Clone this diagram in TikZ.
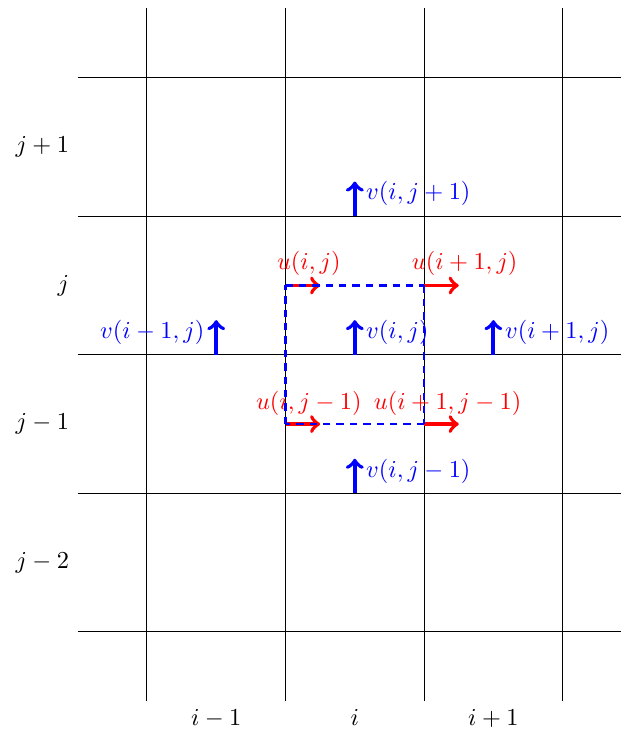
\documentclass[tikz,border=0pt]{standalone}
\begin{document}
\begin{tikzpicture}[x=2cm,y=2cm,
  gridline/.style={black, line width=0.4pt},
  uarr/.style={->, red, ultra thick},
  varr/.style={->, blue, ultra thick},
  ulab/.style={red, inner sep=0pt},
  vlab/.style={blue, inner sep=0pt},
  cellbox/.style={draw=blue, line width=1.1pt, dash pattern=on 3pt off 2.5pt}]
\useasboundingbox (-1.06,-0.70) rectangle (3.417,4.56);
% grid
\foreach \x in {0,...,3} \draw[gridline] (\x,-0.5) -- (\x,4.5);
\foreach \y in {0,...,4} \draw[gridline] (-0.5,\y) -- (3.5,\y);
% axis labels
\node[left] (ljp1) at (-0.5,3.5) {$j+1$};
\node[left] (lj)   at (-0.5,2.5) {$j$};
\node[left] (ljm1) at (-0.5,1.5) {$j-1$};
\node[left] (ljm2) at (-0.5,0.5) {$j-2$};
\node[below] (lim1) at (0.5,-0.5) {$i-1$};
\node[below] (li)   at (1.5,-0.5) {$i$};
\node[below] (lip1) at (2.5,-0.5) {$i+1$};
% u arrows
\coordinate (u1s) at (1,2.5); \coordinate (u1e) at (1.25,2.5);
\coordinate (u2s) at (2,2.5); \coordinate (u2e) at (2.25,2.5);
\coordinate (u3s) at (1,1.5); \coordinate (u3e) at (1.25,1.5);
\coordinate (u4s) at (2,1.5); \coordinate (u4e) at (2.25,1.5);
\draw[uarr] (u1s) -- (u1e);
\draw[uarr] (u2s) -- (u2e);
\draw[uarr] (u3s) -- (u3e);
\draw[uarr] (u4s) -- (u4e);
\node[ulab] (tu1) at (1.168,2.662) {$u(i,j)$};
\node[ulab] (tu2) at (2.293,2.662) {$u(i+1,j)$};
\node[ulab] (tu3) at (1.168,1.652) {$u(i,j-1)$};
\node[ulab] (tu4) at (2.170,1.652) {$u(i+1,j-1)$};
% v arrows
\coordinate (v1s) at (1.5,3); \coordinate (v1e) at (1.5,3.25);
\coordinate (v2s) at (1.5,2); \coordinate (v2e) at (1.5,2.25);
\coordinate (v3s) at (2.5,2); \coordinate (v3e) at (2.5,2.25);
\coordinate (v4s) at (0.5,2); \coordinate (v4e) at (0.5,2.25);
\coordinate (v5s) at (1.5,1); \coordinate (v5e) at (1.5,1.25);
\draw[varr] (v1s) -- (v1e);
\draw[varr] (v2s) -- (v2e);
\draw[varr] (v3s) -- (v3e);
\draw[varr] (v4s) -- (v4e);
\draw[varr] (v5s) -- (v5e);
\node[vlab, anchor=west] (tv1) at (1.579,3.167) {$v(i,j+1)$};
\node[vlab, anchor=west] (tv2) at (1.579,2.160) {$v(i,j)$};
\node[vlab, anchor=west] (tv3) at (2.581,2.160) {$v(i+1,j)$};
\node[vlab, anchor=east] (tv4) at (0.418,2.160) {$v(i-1,j)$};
\node[vlab, anchor=west] (tv5) at (1.579,1.160) {$v(i,j-1)$};
% control cell
\coordinate (c1) at (1,2.5); \coordinate (c2) at (2,2.5);
\coordinate (c3) at (2,1.5); \coordinate (c4) at (1,1.5);
\draw[cellbox] (c1) -- (c2);
\draw[cellbox] (c2) -- (c3);
\draw[cellbox] (c3) -- (c4);
\draw[cellbox] (c4) -- (c1);
\end{tikzpicture}
\end{document}
